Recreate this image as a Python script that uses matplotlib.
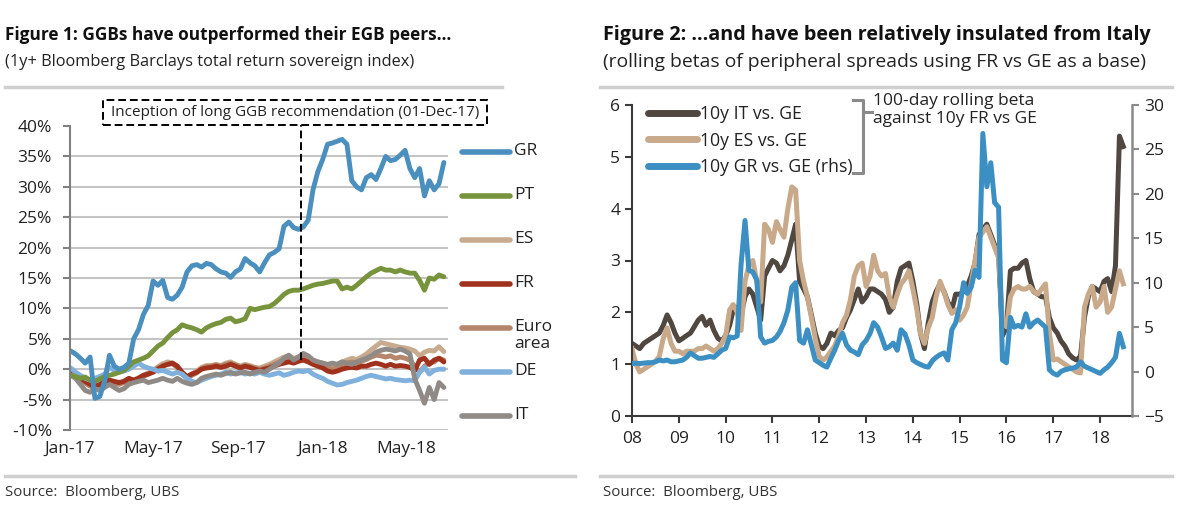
import numpy as np
import pandas as pd
import matplotlib
matplotlib.use("Agg")
import matplotlib.pyplot as plt
import matplotlib.dates as mdates
from matplotlib.lines import Line2D
from matplotlib.patches import Rectangle
from matplotlib.ticker import FuncFormatter

plt.rcParams['font.family'] = ['Open Sans', 'DejaVu Sans']
plt.rcParams['text.color'] = '#222222'

# ---------------- Figure 1 data: weekly total return, % ----------------
weeks = pd.date_range('2017-01-02', periods=78, freq='7D')

gr = [3.0, 2.5, 1.8, 1.0, 2.0, -4.8, -4.5, -2.0, 2.3, 0.5,
      0.0, 0.3, 1.0, 5.0, 6.5, 9.0, 10.5, 14.5, 13.8, 14.6,
      11.8, 11.5, 12.2, 13.5, 16.0, 17.0, 17.2, 16.8, 17.4, 17.2,
      16.5, 16.0, 15.8, 15.1, 16.0, 16.5, 18.2, 17.5, 17.0, 16.0,
      17.5, 18.8, 19.2, 19.8, 23.5, 24.2, 23.3, 23.0, 23.4, 24.5,
      29.5, 32.5, 34.5, 37.0, 37.2, 37.5, 37.8, 37.0, 31.0, 30.0,
      29.5, 31.5, 32.0, 31.2, 33.0, 35.0, 34.3, 34.5, 35.2, 36.0,
      33.0, 31.5, 33.0, 28.5, 31.0, 29.5, 30.5, 34.0]

pt = [-1.0, -1.2, -1.5, -1.3, -1.8, -2.0, -1.6, -1.2, -1.0, -0.8,
      -0.5, -0.2, 0.5, 1.2, 1.5, 1.8, 2.2, 3.0, 3.8, 4.3,
      5.2, 6.0, 6.5, 7.3, 7.0, 6.8, 6.5, 6.1, 6.8, 7.2,
      7.5, 7.7, 8.2, 8.4, 7.8, 8.0, 8.3, 10.0, 9.8, 10.0,
      10.2, 10.3, 10.8, 11.5, 12.3, 12.8, 13.0, 13.0, 13.2, 13.5,
      13.8, 14.0, 14.1, 14.3, 14.5, 14.5, 13.2, 13.5, 13.2, 13.8,
      14.5, 15.2, 15.8, 16.2, 16.6, 16.3, 16.3, 16.0, 16.3, 16.0,
      15.8, 15.8, 14.6, 13.0, 15.0, 14.8, 15.5, 15.2]

es = [-0.5, -1.0, -1.5, -2.0, -2.5, -2.8, -2.6, -2.2, -2.0, -2.2,
      -2.4, -2.0, -1.6, -1.8, -1.4, -1.0, -0.6, -0.2, 0.4, 0.9,
      1.2, 1.0, 0.5, -0.6, -1.4, -0.8, -0.3, 0.3, 0.6, 0.6,
      0.8, 0.6, 1.0, 1.2, 0.8, 0.5, 0.8, 0.6, 0.3, 0.2,
      0.5, 0.8, 1.2, 1.6, 2.0, 2.2, 1.8, 2.0, 2.3, 2.0,
      1.5, 1.2, 1.0, 0.6, 0.5, 0.8, 1.2, 1.5, 1.8, 1.6,
      2.0, 2.5, 3.2, 3.8, 4.4, 4.2, 4.0, 3.8, 3.6, 3.5,
      3.3, 3.0, 2.2, 2.8, 3.1, 3.0, 3.7, 2.9]

fr = [-0.5, -1.0, -1.5, -2.0, -2.5, -2.8, -2.5, -2.0, -1.8, -2.0,
      -2.2, -2.0, -1.5, -1.8, -1.5, -1.0, -0.8, -0.5, 0.0, 0.5,
      0.8, 1.0, 0.5, -0.5, -1.2, -0.8, -0.5, 0.0, 0.2, 0.3,
      0.5, 0.3, 0.5, 0.8, 0.5, 0.2, 0.5, 0.3, 0.0, -0.2,
      0.0, 0.2, 0.5, 0.8, 1.0, 1.2, 1.0, 1.3, 1.5, 1.2,
      0.8, 0.5, 0.2, -0.3, -0.5, -0.3, 0.0, 0.2, 0.3, 0.2,
      0.5, 0.5, 0.8, 1.0, 0.8, 0.5, 0.8, 0.5, 0.6, 0.5,
      0.3, -0.2, 1.5, 1.8, 0.8, 1.5, 1.8, 1.2]

ea = [-0.8, -1.2, -1.8, -2.3, -2.8, -3.0, -2.8, -2.5, -2.2, -2.3,
      -2.5, -2.2, -1.8, -2.0, -1.6, -1.2, -0.8, -0.4, 0.2, 0.6,
      0.8, 0.9, 0.3, -0.8, -1.5, -1.0, -0.6, 0.1, 0.4, 0.5,
      0.7, 0.5, 0.8, 1.0, 0.7, 0.4, 0.6, 0.4, 0.2, 0.0,
      0.2, 0.5, 0.8, 1.2, 1.5, 1.8, 1.5, 1.8, 2.0, 1.6,
      1.2, 0.8, 0.6, 0.2, 0.0, 0.2, 0.6, 1.0, 1.2, 1.0,
      1.3, 1.6, 2.0, 2.3, 2.2, 2.0, 2.2, 1.8, 2.0, 1.8,
      1.5, 0.5, -0.5, 0.5, 1.0, 1.2, 1.8, 1.5]

de = [0.2, -0.5, -1.0, -1.5, -1.8, -1.5, -1.2, -0.8, 0.3, -0.2,
      -0.5, -0.3, 0.0, 0.5, 1.0, 0.5, 0.2, 0.0, -0.3, -0.2,
      -0.5, -0.8, -0.5, -0.8, -1.5, -2.0, -2.2, -1.8, -1.5, -1.2,
      -1.0, -0.8, -0.5, -0.8, -0.6, -0.5, -0.8, -0.6, -0.8, -0.5,
      -0.8, -1.0, -0.8, -0.6, -1.0, -0.8, -0.5, -0.3, -0.4, -0.2,
      -0.8, -1.2, -1.5, -2.0, -2.3, -2.6, -2.5, -2.2, -2.0, -1.8,
      -1.5, -1.2, -1.0, -1.2, -1.4, -1.6, -1.5, -1.7, -1.8, -1.9,
      -1.8, -1.9, -0.5, 0.3, -0.8, -0.2, 0.0, 0.0]

it = [-1.0, -1.5, -2.5, -3.5, -3.8, -3.2, -3.5, -3.0, -2.5, -3.0,
      -3.5, -3.2, -2.5, -2.2, -2.0, -1.8, -2.2, -2.0, -1.8, -1.5,
      -1.8, -2.0, -1.5, -2.0, -2.3, -2.5, -2.2, -1.5, -1.2, -1.0,
      -0.8, -1.0, -0.7, -0.5, -0.8, -0.6, -0.5, -0.8, -0.5, -0.3,
      -0.5, 0.0, 0.5, 1.0, 1.8, 2.3, 1.5, 2.0, 2.6, 2.2,
      1.5, 1.2, 1.0, 0.8, 1.0, 0.8, 1.2, 1.0, 0.8, 1.2,
      1.5, 1.8, 2.2, 2.8, 3.1, 3.3, 3.2, 3.0, 3.3, 3.0,
      2.5, -1.6, -3.5, -5.6, -3.0, -5.0, -2.2, -3.0]

fig1_names = ['GR', 'PT', 'ES', 'FR', 'Euro\narea', 'DE', 'IT']
fig1_colors = ['#4a8fbd', '#77933c', '#c8ab8f', '#a0311d', '#b5866a', '#80b1dc', '#8f8a86']
fig1_series = [gr, pt, es, fr, ea, de, it]
draw_order = [2, 4, 3, 5, 6, 1, 0]
inception = pd.Timestamp('2017-12-01')

# ---------------- Figure 2 data: monthly rolling betas ----------------
months = pd.date_range('2008-01-01', periods=127, freq='MS')

it_beta = [1.40, 1.35, 1.30, 1.40, 1.45, 1.50, 1.55, 1.60, 1.75, 1.95,
           1.80, 1.60, 1.45, 1.50, 1.55, 1.60, 1.72, 1.85, 1.92, 1.75,
           1.85, 1.65, 1.50, 1.45, 1.55, 1.75, 2.05, 2.10, 1.95, 2.30,
           2.45, 2.35, 2.10, 1.85, 2.70, 2.85, 3.00, 2.95, 2.80, 2.90,
           3.10, 3.40, 3.70, 2.60, 2.45, 2.30, 1.95, 1.60, 1.35, 1.30,
           1.40, 1.60, 1.55, 1.65, 1.70, 1.90, 2.05, 2.25, 2.45, 2.20,
           2.30, 2.45, 2.45, 2.40, 2.35, 2.25, 2.00, 2.10, 2.60, 2.85,
           2.90, 2.95, 2.60, 2.15, 1.60, 1.30, 1.80, 2.20, 2.40, 2.55,
           2.40, 2.20, 2.05, 2.35, 2.35, 2.40, 2.50, 2.70, 2.95, 3.50,
           3.60, 3.70, 3.50, 3.30, 3.10, 1.55, 1.70, 2.80, 2.85, 2.85,
           2.95, 3.00, 2.65, 2.40, 2.35, 2.30, 2.30, 1.90, 1.70, 1.60,
           1.45, 1.35, 1.20, 1.12, 1.08, 1.15, 1.90, 2.30, 2.50, 2.45,
           2.40, 2.60, 2.65, 2.40, 2.90, 5.40, 5.20]

es_beta = [1.30, 1.00, 0.85, 0.90, 0.95, 1.00, 1.05, 1.15, 1.50, 1.70,
           1.40, 1.25, 1.25, 1.20, 1.25, 1.25, 1.25, 1.30, 1.30, 1.35,
           1.30, 1.25, 1.30, 1.40, 1.55, 2.05, 2.15, 2.00, 1.65, 2.60,
           2.90, 3.00, 2.60, 2.20, 3.70, 3.60, 3.35, 3.75, 3.60, 3.45,
           4.00, 4.42, 4.36, 3.00, 2.60, 2.30, 1.90, 1.50, 1.15, 1.08,
           1.14, 1.25, 1.35, 1.55, 1.80, 1.95, 2.25, 2.70, 2.90, 2.95,
           2.50, 2.70, 3.10, 2.80, 2.70, 2.75, 2.30, 2.10, 2.35, 2.55,
           2.65, 2.80, 2.45, 2.05, 1.60, 1.40, 1.70, 1.90, 2.30, 2.60,
           2.40, 2.15, 1.98, 2.05, 1.85, 1.95, 2.10, 2.55, 3.00, 3.45,
           3.55, 3.65, 3.45, 3.25, 3.05, 1.85, 1.72, 2.30, 2.45, 2.50,
           2.45, 2.45, 2.50, 2.40, 2.35, 2.45, 2.55, 1.60, 1.08, 1.10,
           1.05, 1.00, 0.95, 0.90, 0.85, 0.83, 2.10, 2.35, 2.50, 2.10,
           2.20, 2.50, 2.00, 2.10, 2.45, 2.80, 2.55]

gr_beta = [0.9, 0.95, 0.9, 0.95, 1.0, 1.0, 1.1, 1.3, 1.2, 1.3,
           1.1, 1.1, 1.2, 1.3, 1.6, 2.1, 1.8, 1.5, 1.5, 1.6,
           1.7, 1.6, 2.0, 2.4, 2.6, 3.9, 3.8, 4.0, 12.0, 17.0,
           11.4, 11.2, 10.3, 3.9, 3.2, 3.4, 3.5, 3.9, 4.5, 5.5,
           6.9, 9.5, 10.0, 3.5, 3.2, 4.7, 3.0, 1.3, 1.0, 0.7,
           0.5, 1.5, 2.4, 3.5, 4.3, 3.0, 2.4, 2.2, 1.9, 3.0,
           3.5, 4.3, 5.5, 5.0, 3.9, 2.6, 2.8, 3.2, 2.4, 4.7,
           4.2, 3.0, 1.3, 1.0, 0.8, 0.6, 0.5, 1.2, 1.6, 1.9,
           2.1, 1.3, 4.7, 5.5, 7.3, 10.0, 8.8, 9.5, 11.4, 10.6,
           26.8, 20.8, 23.5, 19.0, 18.5, 1.3, 1.0, 6.1, 5.0, 5.2,
           5.0, 6.5, 5.0, 5.5, 5.8, 5.4, 5.0, 0.2, -0.2, -0.4,
           0.0, 0.2, 0.3, 0.4, 0.5, 1.1, 0.6, 0.4, 0.2, 0.0,
           -0.2, 0.2, 0.5, 1.0, 1.6, 4.3, 2.8]

fig2_labels = ['10y IT vs. GE', '10y ES vs. GE', '10y GR vs. GE (rhs)']
fig2_colors = ['#4f4740', '#c8a98a', '#3b8fc2']


def fx(px):
    return px / 1200.0


def fy(py):
    return 1 - py / 508.0


fig = plt.figure(figsize=(12, 5.08), dpi=100)

# ================= Figure 1 =================
ax1 = fig.add_axes([fx(70), fy(430), fx(378), 304 / 508.0])
for k in draw_order:
    ax1.plot(weeks, fig1_series[k], color=fig1_colors[k], lw=3.5,
             solid_joinstyle='round', solid_capstyle='round')

ax1.set_ylim(-10, 40)
ax1.set_yticks(np.arange(-10, 41, 5))
ax1.yaxis.set_major_formatter(FuncFormatter(lambda v, p: '%d%%' % v))
ax1.set_xlim(pd.Timestamp('2017-01-01'), pd.Timestamp('2018-07-01'))
ax1.set_xticks(pd.to_datetime(['2017-01-01', '2017-05-01', '2017-09-01',
                               '2018-01-01', '2018-05-01']))
ax1.xaxis.set_major_formatter(mdates.DateFormatter('%b-%y'))
ax1.yaxis.grid(True, color='#c4c4c4', lw=1.5)
ax1.get_ygridlines()[-1].set_visible(False)
ax1.set_axisbelow(True)
for s in ['top', 'right', 'bottom']:
    ax1.spines[s].set_visible(False)
ax1.spines['left'].set_color('#808080')
ax1.spines['left'].set_linewidth(1.5)
ax1.tick_params(axis='y', length=5, width=1.5, color='#808080', labelsize=12.5,
                labelcolor='#222222', pad=8)
ax1.tick_params(axis='x', length=0, labelsize=12.5, labelcolor='#222222', pad=8)

# inception marker
ax1.plot([inception, inception], [1.5, 40.2], color='black', lw=1.4,
         ls=(0, (4, 2)), clip_on=False, zorder=5)
ax1.add_patch(Rectangle((33 / 378, 305 / 304), 384 / 378, 25 / 304,
                        transform=ax1.transAxes, fill=False, ec='black', lw=1.4,
                        ls=(0, (4, 2)), clip_on=False))
ax1.text((295 - 70) / 378, (430 - 112) / 304,
         'Inception of long GGB recommendation (01-Dec-17)',
         transform=ax1.transAxes, ha='center', va='center', fontsize=11)

# legend to the right
for i, (name, color) in enumerate(zip(fig1_names, fig1_colors)):
    yrow = (430 - (152 + 44 * i)) / 304.0
    ax1.add_line(Line2D([392 / 378, 440 / 378], [yrow, yrow], color=color, lw=4.0,
                        solid_capstyle='round', transform=ax1.transAxes,
                        clip_on=False))
    ax1.text(444 / 378, yrow + 9 / 304, name, transform=ax1.transAxes,
             ha='left', va='top', fontsize=12.5, linespacing=1.1)

# ================= Figure 2 =================
ax2 = fig.add_axes([fx(632), fy(416), fx(500), 311 / 508.0])
l_it, = ax2.plot(months, it_beta, color=fig2_colors[0], lw=3.6,
                 solid_joinstyle='round')
l_es, = ax2.plot(months, es_beta, color=fig2_colors[1], lw=3.6,
                 solid_joinstyle='round')
ax3 = ax2.twinx()
l_gr, = ax3.plot(months, gr_beta, color=fig2_colors[2], lw=3.6,
                 solid_joinstyle='round')

ax2.set_ylim(0, 6)
ax2.set_yticks(range(0, 7))
ax3.set_ylim(-5, 30)
ax3.set_yticks(range(-5, 31, 5))
ax2.set_xlim(pd.Timestamp('2008-01-01'), pd.Timestamp('2018-09-07'))
ax2.xaxis.set_major_locator(mdates.YearLocator())
ax2.xaxis.set_major_formatter(mdates.DateFormatter('%y'))

for s in ['top', 'right']:
    ax2.spines[s].set_visible(False)
for s in ['top', 'left', 'bottom']:
    ax3.spines[s].set_visible(False)
for s in ['left', 'bottom']:
    ax2.spines[s].set_color('#3a3a3a')
    ax2.spines[s].set_linewidth(1.5)
ax3.spines['right'].set_color('#8a8a8a')
ax3.spines['right'].set_linewidth(1.8)
ax2.tick_params(axis='both', length=5, width=1.5, color='#3a3a3a', labelsize=12.5,
                labelcolor='#222222')
ax2.tick_params(axis='x', pad=6)
ax3.tick_params(axis='y', length=5, width=1.5, color='#8a8a8a', labelsize=12.5,
                labelcolor='#222222')

ax3.legend([l_it, l_es, l_gr], fig2_labels, loc='upper left',
           bbox_to_anchor=(0.01, 1.035), frameon=False, fontsize=12.7,
           handlelength=2.8, handletextpad=0.15, labelspacing=0.5,
           borderaxespad=0.2)
for h in ax3.get_legend().get_lines():
    h.set_linewidth(5)
    h.set_solid_capstyle('round')

# bracket + note
bx0, bx1, bx2 = 221 / 500, 231 / 500, 240 / 500
bt, bb, bm = 316 / 311, 243 / 311, 304 / 311
ax3.plot([bx0, bx1, bx1, bx0], [bt, bt, bb, bb], color='#8a8a8a', lw=2.2,
         transform=ax3.transAxes, clip_on=False)
ax3.plot([bx1, bx2], [bm, bm], color='#8a8a8a', lw=2.2,
         transform=ax3.transAxes, clip_on=False)
ax3.text(241 / 500, (416 - 93) / 311, '100-day rolling beta\nagainst 10y FR vs GE',
         transform=ax3.transAxes, ha='left', va='top', fontsize=12.5,
         linespacing=1.15)

# ================= titles / sources =================
fig.text(fx(5), fy(35), 'Figure 1: GGBs have outperformed their EGB peers\u2026',
         fontsize=12.4, fontweight='bold', va='center', color='#111111')
fig.text(fx(5), fy(62), '(1y+ Bloomberg Barclays total return sovereign index)',
         fontsize=11.8, va='center', color='#222222')
fig.text(fx(603), fy(35), 'Figure 2: \u2026and have been relatively insulated from Italy',
         fontsize=14.2, fontweight='bold', va='center', color='#111111')
fig.text(fx(603), fy(62), '(rolling betas of peripheral spreads using FR vs GE as a base)',
         fontsize=13.9, va='center', color='#222222')
fig.text(fx(5), fy(492), 'Source:  Bloomberg, UBS', fontsize=10.8, va='center',
         color='#333333')
fig.text(fx(603), fy(492), 'Source:  Bloomberg, UBS', fontsize=10.8, va='center',
         color='#333333')

for x0, x1, y in [(5, 502, 87), (5, 575, 476), (600, 1172, 87), (600, 1172, 476)]:
    fig.add_artist(Line2D([fx(x0), fx(x1)], [fy(y), fy(y)], color='#cfcfcf', lw=2.5))

fig.savefig('out.png', dpi=100)
